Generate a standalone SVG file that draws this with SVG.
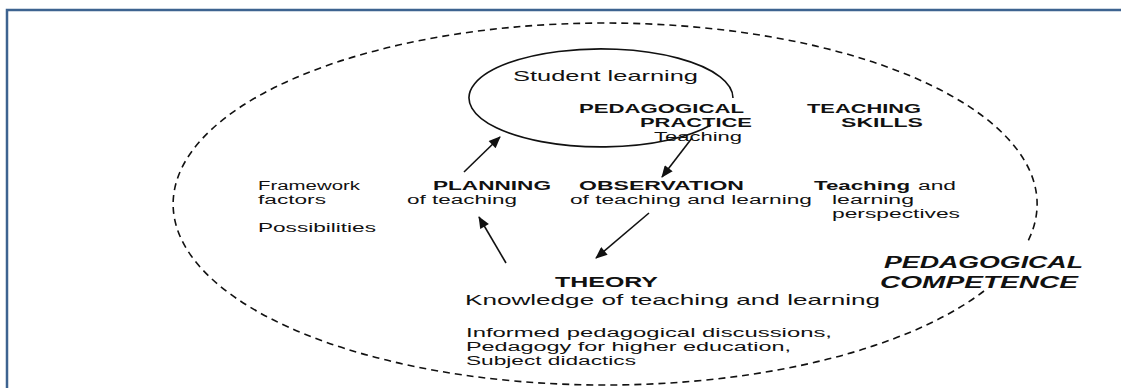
<svg xmlns="http://www.w3.org/2000/svg" width="1121" height="388" viewBox="0 0 1121 388">
<style>
text{font-family:"Liberation Sans",Arial,sans-serif;fill:#111;}
.r{font-size:12px;}
.b{font-size:12px;font-weight:bold;}
.big{font-size:15px;}
.bigb{font-size:15px;font-weight:bold;}
.comp{font-size:16px;font-weight:bold;font-style:italic;}
.line{stroke:#111;stroke-width:1.6;fill:none;}
.dash{stroke:#111;stroke-width:1.6;fill:none;stroke-dasharray:7 5;}
.frame{stroke:#3d6390;stroke-width:2.5;fill:none;}
</style>
<defs>
<marker id="ah" viewBox="0 0 12 10" refX="11" refY="5" markerWidth="13" markerHeight="10" markerUnits="userSpaceOnUse" orient="auto">
<path d="M0,0 L12,5 L0,10 Z" fill="#111"/>
</marker>
</defs>
<g id="frame">
<path class="frame" d="M7 388 L7 10 L1121 10"/>
</g>
<g id="competence">
<path class="dash" d="M984 291 A432 181 0 1 1 1027 243"/>
<text class="comp" x="884" y="268" textLength="199" lengthAdjust="spacingAndGlyphs">PEDAGOGICAL</text>
<text class="comp" x="880" y="288" textLength="198" lengthAdjust="spacingAndGlyphs">COMPETENCE</text>
</g>
<g id="practice">
<path class="line" d="M711 125 A132 49 0 1 1 733 98"/>
<text class="big" x="513" y="81" textLength="185" lengthAdjust="spacingAndGlyphs">Student learning</text>
<text class="b" x="579" y="113" textLength="165" lengthAdjust="spacingAndGlyphs">PEDAGOGICAL</text>
<text class="b" x="640" y="127" textLength="112" lengthAdjust="spacingAndGlyphs">PRACTICE</text>
<text class="r" x="654" y="141" textLength="88" lengthAdjust="spacingAndGlyphs">Teaching</text>
</g>
<g id="skills">
<text class="b" x="807" y="113" textLength="114" lengthAdjust="spacingAndGlyphs">TEACHING</text>
<text class="b" x="841" y="127" textLength="82" lengthAdjust="spacingAndGlyphs">SKILLS</text>
</g>
<g id="framework">
<text class="r" x="258" y="190" textLength="102" lengthAdjust="spacingAndGlyphs">Framework</text>
<text class="r" x="258" y="204" textLength="68" lengthAdjust="spacingAndGlyphs">factors</text>
<text class="r" x="258" y="232" textLength="118" lengthAdjust="spacingAndGlyphs">Possibilities</text>
</g>
<g id="planning">
<text class="b" x="433" y="190" textLength="118" lengthAdjust="spacingAndGlyphs">PLANNING</text>
<text class="r" x="407" y="204" textLength="110" lengthAdjust="spacingAndGlyphs">of teaching</text>
</g>
<g id="observation">
<text class="b" x="579" y="190" textLength="165" lengthAdjust="spacingAndGlyphs">OBSERVATION</text>
<text class="r" x="570" y="204" textLength="242" lengthAdjust="spacingAndGlyphs">of teaching and learning</text>
</g>
<g id="perspectives">
<text class="b" x="814" y="190" textLength="96" lengthAdjust="spacingAndGlyphs">Teaching</text>
<text class="r" x="918" y="190" textLength="38" lengthAdjust="spacingAndGlyphs">and</text>
<text class="r" x="832" y="204" textLength="82" lengthAdjust="spacingAndGlyphs">learning</text>
<text class="r" x="832" y="218" textLength="128" lengthAdjust="spacingAndGlyphs">perspectives</text>
</g>
<g id="theory">
<text class="bigb" x="555" y="287" textLength="103" lengthAdjust="spacingAndGlyphs">THEORY</text>
<text class="big" x="465" y="305" textLength="415" lengthAdjust="spacingAndGlyphs">Knowledge of teaching and learning</text>
<text class="r" x="466" y="337" textLength="366" lengthAdjust="spacingAndGlyphs">Informed pedagogical discussions,</text>
<text class="r" x="466" y="351" textLength="325" lengthAdjust="spacingAndGlyphs">Pedagogy for higher education,</text>
<text class="r" x="466" y="365" textLength="170" lengthAdjust="spacingAndGlyphs">Subject didactics</text>
</g>
<g id="connectors">
<line class="line" x1="464" y1="172" x2="500" y2="137" marker-end="url(#ah)"/>
<line class="line" x1="692" y1="138" x2="662" y2="177" marker-end="url(#ah)"/>
<line class="line" x1="649" y1="213" x2="596" y2="258" marker-end="url(#ah)"/>
<line class="line" x1="506" y1="263" x2="479" y2="217" marker-end="url(#ah)"/>
</g>
</svg>
